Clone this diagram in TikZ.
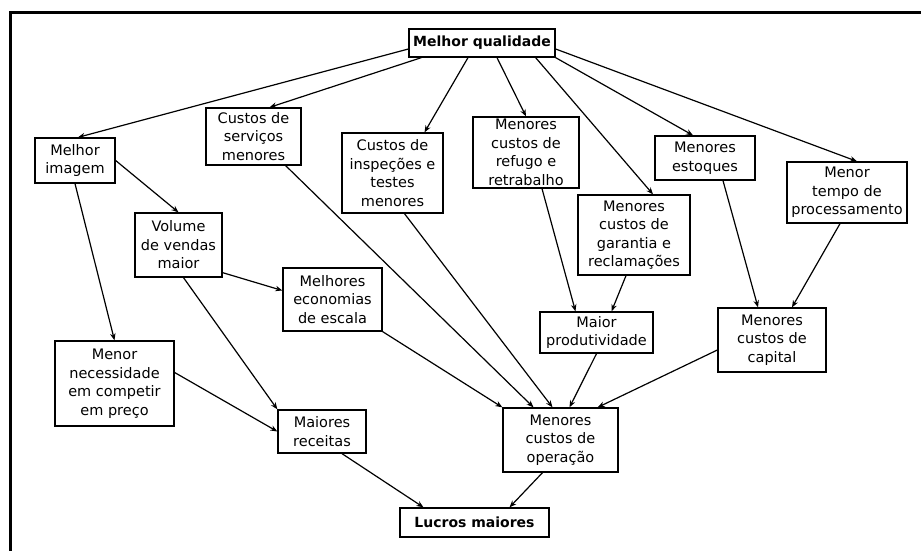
\documentclass[tikz,border=0pt]{standalone}
\usepackage{fontspec}
\setmainfont{DejaVu Sans}
\usetikzlibrary{arrows.meta}
\begin{document}
\begin{tikzpicture}[x=1pt, y=-1pt]

      \tikzset{boxed/.style={draw, line width=1.3pt, align=center, inner sep=2pt, font=\fontsize{14.5}{18.5}\selectfont},
               headbox/.style={boxed, font=\fontsize{14}{18}\selectfont\bfseries},
               link/.style={draw, -{Stealth[length=7pt, width=5.5pt]}, line width=1.2pt}}
      \useasboundingbox (0,0) rectangle (921,551);
      \draw[line width=3.5pt] (10.5,551) -- (10.5,12.5) -- (921,12.5);
%% Vertices
      	\node[headbox, minimum width=146pt, minimum height=28pt] (v1) at (482,43) {Melhor qualidade};
      	\node[boxed, minimum width=80pt, minimum height=45pt] (v2) at (75,160.5) {Melhor\\imagem};
      	\node[boxed, minimum width=95pt, minimum height=57pt] (v3) at (253.5,136.5) {Custos de\\serviços\\menores};
      	\node[boxed, minimum width=101pt, minimum height=80pt] (v4) at (392.5,173) {Custos de\\inspeções e\\testes\\menores};
      	\node[boxed, minimum width=106pt, minimum height=71pt] (v5) at (526,152.5) {Menores\\custos de\\refugo e\\retrabalho};
      	\node[boxed, minimum width=112pt, minimum height=80pt] (v6) at (634,235) {Menores\\custos de\\garantia e\\reclamações};
      	\node[boxed, minimum width=100pt, minimum height=44pt] (v7) at (705,158) {Menores\\estoques};
      	\node[boxed, minimum width=120pt, minimum height=61pt] (v8) at (847,192.5) {Menor\\tempo de\\processamento};
      	\node[boxed, minimum width=87pt, minimum height=64pt] (v9) at (178.5,245) {Volume\\de vendas\\maior};
      	\node[boxed, minimum width=99pt, minimum height=63pt] (v10) at (332.5,299.5) {Melhores\\economias\\de escala};
      	\node[boxed, minimum width=113pt, minimum height=41pt] (v11) at (596.5,332.5) {Maior\\produtividade};
      	\node[boxed, minimum width=108pt, minimum height=64pt] (v12) at (772,340) {Menores\\custos de\\capital};
      	\node[boxed, minimum width=119pt, minimum height=85pt] (v13) at (114.5,383.5) {Menor\\necessidade\\em competir\\em preço};
      	\node[boxed, minimum width=88pt, minimum height=43pt] (v14) at (322,431.5) {Maiores\\receitas};
      	\node[boxed, minimum width=115pt, minimum height=64pt] (v15) at (560.5,440) {Menores\\custos de\\operação};
      	\node[headbox, minimum width=149pt, minimum height=29pt] (v16) at (474.5,522.5) {Lucros maiores};

%Edges
		\path ([yshift=-6pt]v1.west) edge[link] ([xshift=3pt]v2.north);
		\path ([xshift=13pt]v1.south west) edge[link] ([xshift=16pt]v3.north);
		\path ([xshift=-14pt]v1.south) edge[link] ([xshift=32pt]v4.north);
		\path ([xshift=15pt]v1.south) edge[link] (v5.north);
		\path ([xshift=-20pt]v1.south east) edge[link] ([xshift=19pt]v6.north);
		\path (v1.south east) edge[link] ([xshift=-12pt]v7.north);
		\path ([yshift=-6pt]v1.east) edge[link] ([xshift=10pt]v8.north);
		\path (v2.east) edge[link] (v9.north);
		\path (v2.south) edge[link] (v13.north);
		\path ([yshift=5pt]v9.south east) edge[link] ([yshift=9pt]v10.west);
		\path ([xshift=5pt]v9.south) edge[link] (v14.north west);
		\path ([yshift=11pt]v13.east) edge[link] (v14.west);
		\path ([xshift=-16pt]v3.south east) edge[link] ([xshift=-27pt]v15.north);
		\path ([xshift=12pt]v4.south) edge[link] ([xshift=-8pt]v15.north);
		\path (v10.south east) edge[link] (v15.north west);
		\path ([xshift=16pt]v5.south) edge[link] ([xshift=-21pt]v11.north);
		\path ([xshift=-8pt]v6.south) edge[link] ([xshift=15pt]v11.north);
		\path ([xshift=18pt]v7.south) edge[link] ([xshift=-14pt]v12.north);
		\path ([xshift=-7pt]v8.south) edge[link] ([xshift=20pt]v12.north);
		\path (v11.south) edge[link] ([xshift=9pt]v15.north);
		\path ([yshift=-10pt]v12.west) edge[link] ([xshift=-21pt]v15.north east);
		\path ([xshift=-18pt]v15.south) edge[link] ([xshift=35pt]v16.north);
		\path ([xshift=20pt]v14.south) edge[link] ([xshift=-51pt]v16.north);
	\end{tikzpicture}
\end{document}
